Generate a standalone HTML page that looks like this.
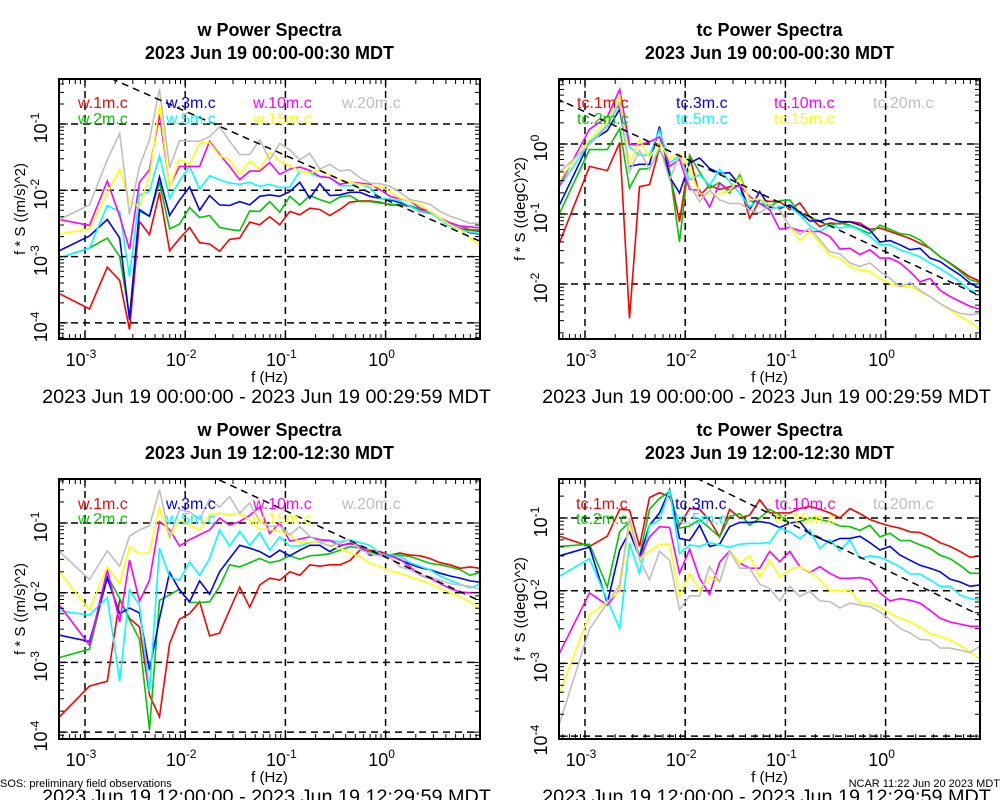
<!DOCTYPE html>
<html><head><meta charset="utf-8"><style>
body{margin:0;background:#fff;}
svg{display:block;font-family:"Liberation Sans",sans-serif;}
</style></head><body>
<svg id="chart" width="1000" height="800" viewBox="0 0 1000 800" xmlns="http://www.w3.org/2000/svg">
<rect x="0" y="0" width="1000" height="800" fill="#fff"/>
<text x="0" y="787" font-size="11">SOS: preliminary field observations</text>
<text x="1000" y="787" font-size="11" text-anchor="end">NCAR 11:22 Jun 20 2023 MDT</text>
</svg>
<script>
// Frequencies (Hz)
const freqs = [0.000556,0.00111,0.00167,0.00222,0.00278,0.00350,0.00440,0.00554,0.00698,0.00878,0.01106,0.01392,0.01752,0.02206,0.02777,0.03496,0.04401,0.05541,0.06976,0.08782,0.1106,0.1392,0.1752,0.2206,0.2777,0.3496,0.4401,0.5541,0.6976,0.8782,1.106,1.392,1.752,2.206,2.777,3.496,4.401,5.541,6.976,8.782];
const seriesColors = ["#ff0000","#00c800","#0000ff","#00ffff","#ff00ff","#ffff00","#bebebe"];
const wNames = ["w.1m.c","w.2m.c","w.3m.c","w.5m.c","w.10m.c","w.15m.c","w.20m.c"];
const tcNames = ["tc.1m.c","tc.2m.c","tc.3m.c","tc.5m.c","tc.10m.c","tc.15m.c","tc.20m.c"];
const xTickExps = [-3,-2,-1,0];

// Panel 1: w 00:00 — log10(f*S)
const p1_1m = [-3.56,-3.79,-3.16,-3.36,-4.1,-2.47,-2.67,-2.03,-2.91,-2.73,-2.56,-2.79,-2.81,-2.92,-2.74,-2.72,-2.48,-2.52,-2.40,-2.52,-2.32,-2.37,-2.27,-2.29,-2.38,-2.29,-2.18,-2.16,-2.16,-2.18,-2.22,-2.22,-2.24,-2.29,-2.34,-2.42,-2.52,-2.58,-2.60,-2.62];
const p1_2m = [-3.02,-2.87,-2.72,-3.0,-3.9,-2.32,-2.39,-1.88,-2.58,-2.51,-2.26,-2.41,-2.38,-2.56,-2.59,-2.61,-2.31,-2.32,-2.17,-2.33,-2.09,-2.22,-2.08,-2.14,-2.19,-2.10,-2.08,-2.17,-2.17,-2.19,-2.21,-2.22,-2.23,-2.28,-2.32,-2.42,-2.49,-2.54,-2.59,-2.60];
const p1_3m = [-2.91,-2.69,-2.44,-2.72,-3.95,-2.29,-2.39,-1.80,-2.38,-2.15,-1.95,-2.30,-2.08,-2.22,-2.23,-2.17,-2.22,-2.09,-2.07,-2.09,-2.02,-1.88,-2.12,-1.90,-2.08,-2.07,-2.03,-2.03,-2.09,-2.12,-2.14,-2.19,-2.24,-2.32,-2.34,-2.42,-2.52,-2.58,-2.64,-2.66];
const p1_5m = [-3.02,-2.87,-2.23,-2.32,-3.30,-2.07,-2.02,-1.48,-2.12,-1.86,-1.64,-1.98,-1.78,-1.84,-1.89,-1.91,-1.88,-1.94,-1.91,-1.96,-1.95,-1.71,-1.74,-1.80,-1.81,-1.93,-1.93,-1.91,-1.96,-2.12,-2.13,-2.16,-2.24,-2.32,-2.33,-2.44,-2.54,-2.59,-2.63,-2.65];
const p1_10m = [-2.44,-2.53,-1.86,-2.39,-2.89,-1.88,-1.69,-0.86,-1.94,-1.64,-1.64,-1.64,-1.26,-1.46,-1.64,-1.84,-1.71,-1.71,-1.58,-1.76,-1.68,-1.65,-1.70,-1.79,-1.81,-1.91,-1.88,-1.89,-1.91,-1.99,-2.09,-2.13,-2.16,-2.27,-2.32,-2.42,-2.49,-2.54,-2.55,-2.57];
const p1_15m = [-2.66,-2.58,-2.04,-1.68,-2.17,-2.24,-1.79,-0.71,-1.96,-1.54,-1.61,-1.29,-1.28,-1.48,-1.54,-1.76,-1.56,-1.68,-1.43,-1.56,-1.63,-1.71,-1.74,-1.69,-1.76,-1.84,-1.88,-1.91,-1.93,-1.94,-2.02,-2.12,-2.16,-2.22,-2.32,-2.42,-2.52,-2.59,-2.72,-2.83];
const p1_20m = [-2.44,-2.22,-1.54,-1.14,-2.37,-1.64,-1.24,-0.47,-1.66,-1.25,-1.26,-1.26,-1.19,-1.04,-1.26,-1.46,-1.46,-1.24,-1.54,-1.29,-1.39,-1.54,-1.44,-1.68,-1.61,-1.71,-1.69,-1.81,-1.89,-1.90,-1.94,-2.03,-2.14,-2.17,-2.21,-2.32,-2.39,-2.44,-2.50,-2.49];

// Panel 2: tc 00:00
const p2_1m = [-1.41,-0.32,-0.38,0.02,-2.49,-0.61,-0.58,-0.06,-0.40,-1.11,-0.17,-0.74,-0.59,-0.65,-0.61,-0.59,-1.06,-0.80,-0.82,-0.82,-0.94,-0.84,-1.04,-1.18,-1.13,-1.14,-1.11,-1.13,-1.22,-1.20,-1.25,-1.30,-1.35,-1.42,-1.49,-1.61,-1.70,-1.80,-1.90,-1.96];
const p2_2m = [-0.99,-0.08,-0.08,0.22,-0.63,-0.36,-0.35,-0.08,-0.37,-1.40,-0.16,-0.40,-0.63,-0.55,-0.70,-0.44,-0.81,-0.85,-0.89,-0.81,-0.80,-0.99,-1.04,-1.11,-1.16,-1.13,-1.16,-1.22,-1.28,-1.16,-1.22,-1.28,-1.30,-1.37,-1.49,-1.61,-1.71,-1.82,-1.94,-1.98];
const p2_3m = [-0.87,0.03,0.19,0.50,-0.32,-0.29,-0.29,0.25,-0.47,-0.70,-0.27,-0.20,-0.35,-0.42,-0.41,-0.59,-0.94,-0.68,-0.90,-0.92,-0.87,-0.98,-1.10,-1.10,-1.06,-1.11,-1.11,-1.16,-1.23,-1.40,-1.38,-1.44,-1.51,-1.49,-1.63,-1.68,-1.78,-1.87,-1.99,-2.06];
const p2_5m = [-0.61,0.02,0.27,0.60,-0.04,-0.16,-0.16,0.20,-0.27,-0.17,-0.51,-0.44,-0.59,-0.36,-0.54,-0.70,-0.90,-0.78,-0.94,-0.89,-0.90,-1.01,-1.17,-1.25,-1.16,-1.20,-1.17,-1.23,-1.32,-1.44,-1.44,-1.51,-1.56,-1.61,-1.70,-1.78,-1.87,-1.97,-2.09,-2.11];
const p2_10m = [-0.59,0.21,0.39,0.78,-0.01,-0.01,0.03,0.10,-0.32,-0.22,-0.65,-0.66,-0.90,-0.56,-0.66,-0.59,-0.75,-0.85,-0.94,-1.22,-1.19,-1.24,-1.25,-1.25,-1.32,-1.50,-1.49,-1.58,-1.51,-1.63,-1.63,-1.70,-1.82,-1.97,-1.92,-2.09,-2.18,-2.25,-2.32,-2.36];
const p2_15m = [-0.51,0.06,0.34,0.69,-0.30,0.06,-0.20,0.03,-0.22,-0.13,-0.37,-0.71,-0.71,-0.71,-0.67,-0.48,-0.80,-0.78,-0.87,-0.94,-1.18,-1.38,-1.25,-1.41,-1.59,-1.63,-1.75,-1.80,-1.82,-1.92,-1.99,-2.04,-2.03,-2.11,-2.18,-2.28,-2.37,-2.47,-2.54,-2.66];
const p2_20m = [-0.40,-0.01,0.25,0.58,-0.40,-0.09,-0.37,-0.04,-0.51,-0.16,-0.59,-0.82,-0.66,-0.80,-0.85,-0.85,-0.94,-0.99,-0.87,-0.94,-1.18,-1.29,-1.20,-1.37,-1.54,-1.57,-1.70,-1.75,-1.70,-1.82,-1.92,-2.04,-1.98,-2.09,-2.18,-2.28,-2.36,-2.42,-2.44,-2.42];

// Panel 3: w 12:00
const p3_1m = [-3.78,-3.34,-3.27,-2.10,-2.37,-2.49,-3.47,-3.78,-2.73,-2.38,-2.30,-2.13,-2.62,-2.58,-2.25,-1.92,-2.21,-1.89,-1.79,-1.82,-1.70,-1.75,-1.60,-1.62,-1.60,-1.60,-1.54,-1.39,-1.39,-1.41,-1.46,-1.43,-1.46,-1.47,-1.51,-1.57,-1.60,-1.65,-1.63,-1.65];
const p3_2m = [-2.93,-2.81,-1.76,-2.08,-2.39,-2.67,-3.97,-2.11,-2.03,-1.95,-2.14,-2.14,-2.13,-1.91,-1.60,-1.63,-1.57,-1.51,-1.57,-1.54,-1.47,-1.52,-1.47,-1.46,-1.44,-1.39,-1.34,-1.36,-1.41,-1.46,-1.46,-1.46,-1.48,-1.53,-1.58,-1.60,-1.63,-1.67,-1.75,-1.71];
const p3_3m = [-2.61,-2.70,-1.79,-2.30,-2.22,-2.29,-3.11,-2.37,-1.71,-1.96,-2.13,-1.83,-2.02,-1.70,-1.51,-1.32,-1.36,-1.41,-1.49,-1.39,-1.47,-1.39,-1.32,-1.32,-1.41,-1.33,-1.29,-1.33,-1.46,-1.44,-1.46,-1.53,-1.59,-1.64,-1.67,-1.72,-1.76,-1.79,-1.83,-1.85];
const p3_5m = [-2.26,-2.32,-2.07,-3.27,-1.96,-2.18,-3.42,-1.36,-1.77,-1.82,-1.56,-1.75,-1.51,-1.10,-1.33,-1.12,-1.32,-1.14,-1.39,-1.20,-1.33,-1.33,-1.28,-1.27,-1.25,-1.27,-1.24,-1.28,-1.32,-1.44,-1.46,-1.48,-1.57,-1.62,-1.67,-1.76,-1.82,-1.88,-1.93,-1.88];
const p3_10m = [-2.18,-2.75,-1.67,-2.42,-1.53,-2.12,-1.82,-0.98,-1.09,-1.33,-1.24,-1.17,-1.10,-0.93,-1.03,-0.98,-0.89,-0.77,-1.15,-1.00,-1.26,-1.23,-1.20,-1.24,-1.25,-1.32,-1.30,-1.33,-1.44,-1.46,-1.47,-1.52,-1.63,-1.75,-1.79,-1.87,-1.94,-1.99,-2.00,-2.00];
const p3_15m = [-1.70,-2.25,-1.63,-1.87,-1.34,-1.44,-1.43,-0.78,-1.22,-0.96,-1.03,-1.10,-0.88,-0.86,-0.88,-0.86,-0.96,-1.09,-1.09,-1.12,-1.17,-1.28,-1.27,-1.28,-1.33,-1.36,-1.43,-1.48,-1.58,-1.62,-1.69,-1.72,-1.77,-1.82,-1.87,-1.94,-2.00,-2.06,-2.13,-2.22];
const p3_20m = [-1.41,-1.81,-1.40,-1.62,-1.19,-1.10,-1.04,-0.52,-1.20,-0.81,-0.84,-0.95,-0.66,-0.77,-0.62,-0.86,-0.71,-0.98,-1.05,-1.04,-1.17,-1.05,-1.19,-1.28,-1.33,-1.29,-1.24,-1.38,-1.44,-1.47,-1.49,-1.63,-1.67,-1.75,-1.77,-1.82,-1.87,-1.89,-1.91,-1.95];

// Panel 4: tc 12:00
const p4_1m = [-1.25,-1.39,-1.25,-0.88,-0.89,-1.39,-0.72,-0.65,-0.71,-1.10,-0.87,-0.88,-1.03,-1.26,-0.88,-1.00,-0.96,-0.75,-0.93,-0.93,-0.93,-0.87,-0.84,-0.88,-0.93,-1.00,-0.87,-0.94,-1.02,-1.07,-1.11,-1.14,-1.19,-1.20,-1.26,-1.34,-1.39,-1.46,-1.54,-1.52];
const p4_2m = [-1.39,-1.36,-1.95,-1.19,-1.05,-1.53,-0.88,-0.73,-0.64,-1.14,-1.11,-1.02,-1.14,-1.26,-0.98,-0.94,-1.10,-1.00,-0.88,-0.96,-1.07,-1.05,-1.00,-1.02,-1.05,-1.11,-1.12,-1.17,-1.10,-1.26,-1.21,-1.31,-1.31,-1.37,-1.42,-1.51,-1.56,-1.65,-1.76,-1.76];
const p4_3m = [-1.52,-1.40,-2.17,-1.44,-1.19,-1.54,-1.10,-0.93,-0.61,-1.28,-1.31,-1.10,-1.39,-1.36,-1.12,-1.06,-1.06,-1.05,-1.07,-1.13,-1.07,-1.05,-1.22,-1.28,-1.34,-1.28,-1.28,-1.25,-1.34,-1.44,-1.39,-1.51,-1.58,-1.65,-1.69,-1.74,-1.84,-1.88,-1.94,-1.92];
const p4_5m = [-1.80,-1.56,-2.13,-2.52,-1.34,-1.76,-1.10,-1.03,-0.61,-1.49,-1.37,-1.39,-1.34,-1.37,-1.40,-1.36,-1.35,-1.35,-1.34,-1.14,-1.19,-1.28,-1.17,-1.42,-1.30,-1.45,-1.30,-1.56,-1.52,-1.54,-1.60,-1.67,-1.77,-1.77,-1.85,-1.94,-1.94,-2.06,-2.11,-2.13];
const p4_10m = [-2.86,-2.03,-2.20,-1.99,-1.02,-1.56,-1.26,-1.12,-1.13,-1.76,-1.43,-1.83,-2.05,-1.61,-1.45,-1.62,-1.69,-1.69,-1.46,-1.60,-1.46,-1.67,-1.75,-1.67,-1.76,-1.83,-1.83,-1.82,-1.85,-2.03,-2.14,-2.11,-2.13,-2.17,-2.27,-2.38,-2.43,-2.46,-2.49,-2.49];
const p4_15m = [-3.41,-2.33,-2.15,-2.01,-1.07,-1.56,-1.46,-1.36,-1.36,-2.08,-1.76,-2.00,-1.81,-1.88,-1.45,-1.62,-1.52,-1.81,-1.58,-1.81,-1.71,-1.67,-1.74,-1.85,-2.00,-2.00,-1.99,-2.17,-2.17,-2.23,-2.31,-2.38,-2.43,-2.50,-2.59,-2.63,-2.68,-2.75,-2.84,-2.94];
const p4_20m = [-3.83,-2.53,-2.17,-1.92,-1.00,-1.57,-1.85,-1.46,-1.58,-2.26,-2.07,-2.07,-1.67,-1.88,-1.45,-1.69,-1.69,-1.91,-1.97,-2.14,-1.94,-2.08,-2.01,-2.14,-2.15,-2.24,-2.17,-2.20,-2.22,-2.29,-2.40,-2.52,-2.58,-2.67,-2.68,-2.79,-2.79,-2.82,-2.85,-2.76];

// reference -2/3 slope lines: log10 value at f = 1 Hz
const refAtOneHz = [-2.14, -1.54, -1.49, -1.71];

const NS = "http://www.w3.org/2000/svg";
const svg = document.getElementById("chart");
function mk(tag, attrs, parent) {
  const e = document.createElementNS(NS, tag);
  for (const k in attrs) e.setAttribute(k, attrs[k]);
  (parent || svg).appendChild(e);
  return e;
}

const panels = [
  {id:"w-morning", x0:59, x1:480, y0:79, y1:339, yRef:124, yRefExp:-1, ppd:66.3, yExps:[-1,-2,-3,-4], names:wNames,
   data:[p1_1m,p1_2m,p1_3m,p1_5m,p1_10m,p1_15m,p1_20m], ref:refAtOneHz[0],
   title1:"w Power Spectra", title2:"2023 Jun 19 00:00-00:30 MDT", t1y:36, t2y:59, ytitle:"f * S ((m/s)^2)",
   date:"2023 Jun 19 00:00:00 - 2023 Jun 19 00:29:59 MDT", legY:[102,118], legX:[78,166,253,342]},
  {id:"tc-morning", x0:559, x1:980, y0:79, y1:339, yRef:144, yRefExp:0, ppd:70, yExps:[0,-1,-2], names:tcNames,
   data:[p2_1m,p2_2m,p2_3m,p2_5m,p2_10m,p2_15m,p2_20m], ref:refAtOneHz[1],
   title1:"tc Power Spectra", title2:"2023 Jun 19 00:00-00:30 MDT", t1y:36, t2y:59, ytitle:"f * S ((degC)^2)",
   date:"2023 Jun 19 00:00:00 - 2023 Jun 19 00:29:59 MDT", legY:[102,118], legX:[577,676,774,873]},
  {id:"w-noon", x0:59, x1:480, y0:479, y1:739, yRef:523, yRefExp:-1, ppd:69.7, yExps:[-1,-2,-3,-4], names:wNames,
   data:[p3_1m,p3_2m,p3_3m,p3_5m,p3_10m,p3_15m,p3_20m], ref:refAtOneHz[2],
   title1:"w Power Spectra", title2:"2023 Jun 19 12:00-12:30 MDT", t1y:436, t2y:459, ytitle:"f * S ((m/s)^2)",
   date:"2023 Jun 19 12:00:00 - 2023 Jun 19 12:29:59 MDT", legY:[503,518], legX:[78,166,253,342]},
  {id:"tc-noon", x0:559, x1:980, y0:479, y1:739, yRef:518, yRefExp:-1, ppd:72.7, yExps:[-1,-2,-3,-4], names:tcNames,
   data:[p4_1m,p4_2m,p4_3m,p4_5m,p4_10m,p4_15m,p4_20m], ref:refAtOneHz[3],
   title1:"tc Power Spectra", title2:"2023 Jun 19 12:00-12:30 MDT", t1y:436, t2y:459, ytitle:"f * S ((degC)^2)",
   date:"2023 Jun 19 12:00:00 - 2023 Jun 19 12:29:59 MDT", legY:[503,518], legX:[576,675,775,873]}
];

panels.forEach((p, pi) => {
  const g = mk("g", {});
  
  
  const x10m3 = p.x0 + 26; // position of 1e-3
  const xs = f => x10m3 + 100.2 * (Math.log10(f) + 3);
  const ys = lv => p.yRef - p.ppd * (lv - p.yRefExp);
  const cx = (p.x0 + p.x1) / 2;
  const clipId = "clip" + pi;
  const cp = mk("clipPath", {id: clipId}, g);
  mk("rect", {x:p.x0, y:p.y0, width:p.x1-p.x0, height:p.y1-p.y0}, cp);

  const t1 = mk("text", {x:cx, y:p.t1y, "font-size":18, "font-weight":"bold", "text-anchor":"middle"}, g);
  t1.textContent = p.title1;
  
  
  const t2 = mk("text", {x:cx, y:p.t2y, "font-size":18, "font-weight":"bold", "text-anchor":"middle"}, g);
  t2.textContent = p.title2;
  
  

  xTickExps.forEach(e => {
    const x = xs(Math.pow(10, e));
    const l = mk("line", {x1:x, x2:x, y1:p.y0, y2:p.y1, stroke:"#000", "stroke-width":1.5, "stroke-dasharray":"7,5"}, g);
    
    
  });
  p.yExps.forEach(e => {
    const y = ys(e);
    const l = mk("line", {x1:p.x0, x2:p.x1, y1:y, y2:y, stroke:"#000", "stroke-width":1.5, "stroke-dasharray":"7,5"}, g);
    
    
  });

  p.data.forEach((arr, si) => {
    const pts = arr.map((v, i) => xs(freqs[i]).toFixed(1) + "," + ys(v).toFixed(1)).join(" ");
    const pl = mk("polyline", {points:pts, fill:"none", stroke:seriesColors[si], "stroke-width":1.6, "clip-path":"url(#"+clipId+")"}, g);
    
    
  });

  const fA = 0.0004, fB = 10;
  const rl = mk("line", {x1:xs(fA), y1:ys(p.ref - 2/3*Math.log10(fA)), x2:xs(fB), y2:ys(p.ref - 2/3*Math.log10(fB)),
    stroke:"#000", "stroke-width":1.5, "stroke-dasharray":"7,5", "clip-path":"url(#"+clipId+")"}, g);
  
  

  p.names.forEach((n, si) => {
    const col = Math.floor(si / 2), row = si % 2;
    const t = mk("text", {x:p.legX[col], y:p.legY[row] + 6, "font-size":16, fill:seriesColors[si]}, g);
    t.textContent = n;
    
    
  });

  const fr = mk("rect", {x:p.x0, y:p.y0, width:p.x1-p.x0, height:p.y1-p.y0, fill:"none", stroke:"#000", "stroke-width":2}, g);
  
  

  let ticks = "";
  for (let e = -4; e <= 1; e++) for (let m = 1; m <= 9; m++) {
    const x = xs(m * Math.pow(10, e));
    if (x < p.x0 || x > p.x1) continue;
    const len = m === 1 ? 9 : 5;
    ticks += `M${x.toFixed(1)},${p.y1}v${-len}M${x.toFixed(1)},${p.y0}v${len}`;
  }
  const yMin = p.yRefExp - (p.y1 - p.yRef) / p.ppd, yMax = p.yRefExp + (p.yRef - p.y0) / p.ppd;
  for (let e = Math.floor(yMin) - 1; e <= Math.ceil(yMax); e++) for (let m = 1; m <= 9; m++) {
    const lv = e + Math.log10(m);
    if (lv < yMin || lv > yMax) continue;
    const y = ys(lv);
    const len = m === 1 ? 9 : 5;
    ticks += `M${p.x0},${y.toFixed(1)}h${len}M${p.x1},${y.toFixed(1)}h${-len}`;
  }
  const tk = mk("path", {d:ticks, stroke:"#000", "stroke-width":1, fill:"none"}, g);
  
  

  xTickExps.forEach(e => {
    const t = mk("text", {x:xs(Math.pow(10, e)) - 4, y:p.y1 + 27, "font-size":18, "text-anchor":"middle"}, g);
    t.textContent = "10";
    const s = mk("tspan", {"font-size":12, dy:-8}, t);
    s.textContent = String(e);
    
    
  });
  p.yExps.forEach(e => {
    const y = ys(e);
    const t = mk("text", {x:p.x0 - 16, y:y, "font-size":18, "text-anchor":"middle", transform:`rotate(-90 ${p.x0 - 12} ${y})`}, g);
    t.textContent = "10";
    const s = mk("tspan", {"font-size":12, dy:-8}, t);
    s.textContent = String(e);
    
    
  });
  const ycy = (p.y0 + p.y1) / 2;
  const yt = mk("text", {x:p.x0 - 34, y:ycy, "font-size":15, "text-anchor":"middle", transform:`rotate(-90 ${p.x0 - 34} ${ycy})`}, g);
  yt.textContent = p.ytitle;
  
  
  const xt = mk("text", {x:cx, y:p.y1 + 43, "font-size":15, "text-anchor":"middle"}, g);
  xt.textContent = "f (Hz)";
  
  
  const dt = mk("text", {x:cx - 3, y:p.y1 + 64, "font-size":19.8, "text-anchor":"middle"}, g);
  dt.textContent = p.date;
  
  
});
</script>
</body></html>
